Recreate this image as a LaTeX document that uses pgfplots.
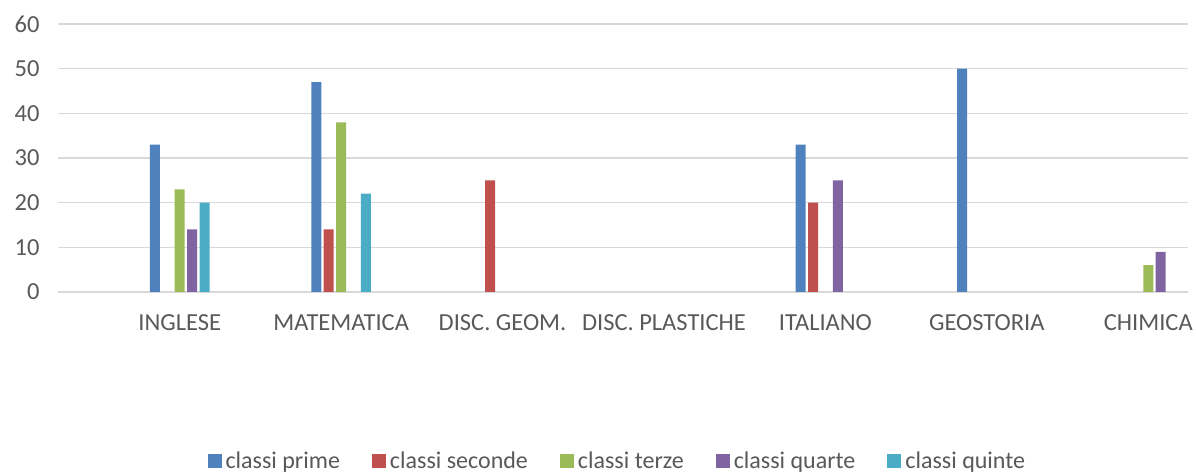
\documentclass[border=0pt]{standalone}
\usepackage{pgfplots}
\pgfplotsset{compat=1.18}
\usepackage{fontspec}
\setmainfont{Carlito}
\definecolor{cprime}{HTML}{4F81BD}
\definecolor{cseconde}{HTML}{C0504D}
\definecolor{cterze}{HTML}{9BBB59}
\definecolor{cquarte}{HTML}{8064A2}
\definecolor{cquinte}{HTML}{4BACC6}
\definecolor{gridgray}{HTML}{D9D9D9}
\definecolor{textgray}{HTML}{595959}

\begin{document}
\begin{tikzpicture}
\path[use as bounding box] (0,0) rectangle (1196pt,473pt);
\begin{axis}[
    at={(58pt,181pt)}, anchor=south west,
    scale only axis,
    width=1130pt, height=268pt,
    ybar=2.4pt, bar width=10pt,
    xmin=-0.754, xmax=6.246,
    ymin=0, ymax=60,
    ytick={0,10,...,60},
    xtick={0,...,6},
    xticklabels={INGLESE, MATEMATICA, DISC. GEOM., DISC. PLASTICHE, ITALIANO, GEOSTORIA, CHIMICA},
    axis line style={draw=none},
    ymajorgrids,
    grid style={gridgray, line width=1.4pt},
    major tick length=0pt,
    /pgf/number format/assume math mode=true,
    tick label style={font=\fontsize{24.5}{29}\selectfont, text=textgray},
    xticklabel style={anchor=base, yshift=-38.5pt},
    yticklabel style={anchor=east, xshift=-15pt},
    legend columns=-1,
    legend style={at={(0.495,-0.631)}, anchor=center, draw=none,
        font=\fontsize{24}{29}\selectfont, text=textgray,
        /tikz/every odd column/.append style={column sep=2pt},
        /tikz/every even column/.append style={column sep=30pt}},
    legend image code/.code={\fill[#1] (0pt,-7pt) rectangle (14pt,7pt);},
]
% classi prime
\addplot[fill=cprime, draw=none] coordinates {(0,33) (1,47) (4,33) (5,50)};
% classi seconde
\addplot[fill=cseconde, draw=none] coordinates {(1,14) (2,25) (4,20)};
% classi terze
\addplot[fill=cterze, draw=none] coordinates {(0,23) (1,38) (6,6)};
% classi quarte
\addplot[fill=cquarte, draw=none] coordinates {(0,14) (4,25) (6,9)};
% classi quinte
\addplot[fill=cquinte, draw=none] coordinates {(0,20) (1,22)};
\legend{classi prime, classi seconde, classi terze, classi quarte, classi quinte}
\end{axis}
\end{tikzpicture}
\end{document}
